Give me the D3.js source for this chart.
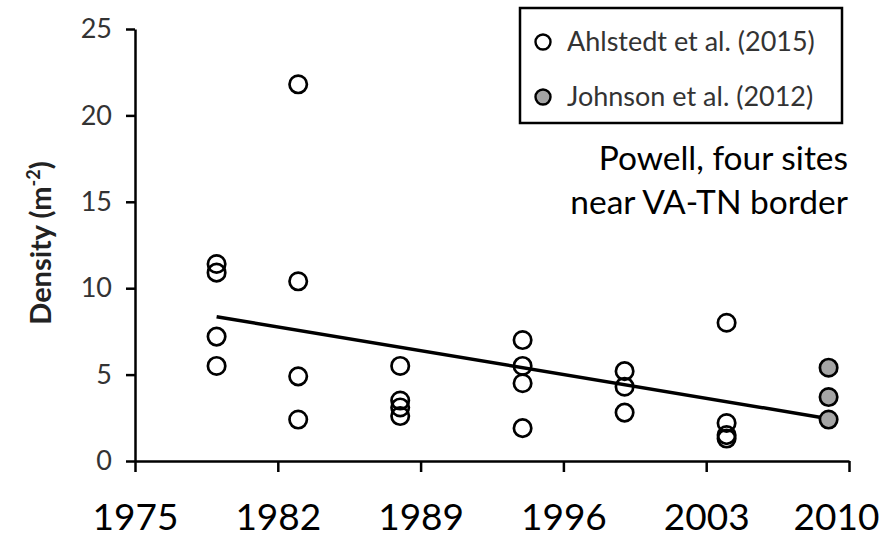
<!DOCTYPE html>
<html>
<head>
<meta charset="utf-8">
<script src="https://cdn.jsdelivr.net/npm/d3@7"></script>
<style>
  body { margin: 0; background: #fff; }
  svg { display: block; }
  svg text { font-family: Lato, "Open Sans", sans-serif; }
</style>
</head>
<body>
<script>
// data
var ahlYears   = [1979, 1979, 1979, 1979, 1983, 1983, 1983, 1983, 1988, 1988, 1988, 1988,
                  1994, 1994, 1994, 1994, 1999, 1999, 1999, 2004, 2004, 2004, 2004];
var ahlDensity = [11.4, 10.9, 7.2, 5.5, 21.8, 10.4, 4.9, 2.4, 5.5, 3.5, 3.1, 2.6,
                  7.0, 5.5, 4.5, 1.9, 5.2, 4.3, 2.8, 8.0, 2.2, 1.5, 1.3];
var johYears   = [2009, 2009, 2009];
var johDensity = [5.4, 3.7, 2.4];
var trendYears   = [1979, 2009];
var trendDensity = [8.35, 2.45];
var xTicks = [1975, 1982, 1989, 1996, 2003, 2010];
var yTicks = [0, 5, 10, 15, 20, 25];
var legendLabels = ["Ahlstedt et al. (2015)", "Johnson et al. (2012)"];
var noteLines = ["Powell, four sites", "near VA-TN border"];

var W = 895, H = 538;
var margin = {top: 29, right: 46, bottom: 77, left: 135},
    width = W - margin.left - margin.right,
    height = H - margin.top - margin.bottom;

var svg = d3.select("body").append("svg")
    .attr("width", W)
    .attr("height", H);

var g = svg.append("g")
    .attr("transform", "translate(" + margin.left + "," + margin.top + ")");

var x = d3.scaleLinear().domain([1975, 2010]).range([0, width]);
var y = d3.scaleLinear().domain([0, 25]).range([height, 0]);

// Y axis
var yAxis = g.append("g")
    .call(d3.axisLeft(y).tickValues(yTicks).tickSize(9).tickSizeOuter(0).tickPadding(14));
yAxis.select(".domain").attr("stroke-width", 2.5);
yAxis.selectAll(".tick line").attr("stroke-width", 2.5);
yAxis.selectAll("text")
    .attr("fill", "#333")
    .style("font-size", "27px");

// X axis
var xAxis = g.append("g")
    .attr("transform", "translate(0," + height + ")")
    .call(d3.axisBottom(x).tickValues(xTicks).tickFormat(d3.format("d"))
        .tickSize(11).tickSizeOuter(0));
xAxis.select(".domain").attr("stroke-width", 2.5);
xAxis.selectAll(".tick line").attr("stroke-width", 2.5);
xAxis.selectAll("text")
    .attr("y", 69)
    .attr("dy", 0)
    .attr("dx", function (d) { return d === 2010 ? -13 : 0; })
    .attr("fill", "#000")
    .style("font-size", "37px");

// y label
var ylab = svg.append("text")
    .attr("transform", "translate(51,243) rotate(-90)")
    .attr("text-anchor", "middle")
    .style("font-size", "29px")
    .style("font-weight", "bold")
    .attr("fill", "#222");
ylab.append("tspan").text("Density (m");
ylab.append("tspan").attr("dy", -11).style("font-size", "18px").text("-2");
ylab.append("tspan").attr("dy", 11).text(")");

// trend line
var line = d3.line()
    .x(function (d) { return x(d[0]); })
    .y(function (d) { return y(d[1]); });

g.append("path")
    .attr("d", line(d3.zip(trendYears, trendDensity)))
    .attr("fill", "none")
    .attr("stroke", "#000")
    .attr("stroke-width", 3.5);

// points
g.selectAll(".ahl")
    .data(d3.zip(ahlYears, ahlDensity))
    .enter().append("circle")
    .attr("class", "ahl")
    .attr("r", 8.7)
    .attr("cx", function (d) { return x(d[0]); })
    .attr("cy", function (d) { return y(d[1]); })
    .attr("fill", "none")
    .attr("stroke", "#000")
    .attr("stroke-width", 2.7);

g.selectAll(".joh")
    .data(d3.zip(johYears, johDensity))
    .enter().append("circle")
    .attr("class", "joh")
    .attr("r", 8.7)
    .attr("cx", function (d) { return x(d[0]); })
    .attr("cy", function (d) { return y(d[1]); })
    .attr("fill", "#a5a5a5")
    .attr("stroke", "#000")
    .attr("stroke-width", 2.7);

// legend
var legend = svg.append("g").attr("transform", "translate(520,8)");
legend.append("rect")
    .attr("width", 322)
    .attr("height", 115)
    .attr("fill", "#fff")
    .attr("stroke", "#000")
    .attr("stroke-width", 2.5);

var fills = ["#fff", "#a5a5a5"];
var item = legend.selectAll(".item")
    .data(legendLabels)
    .enter().append("g")
    .attr("class", "item")
    .attr("transform", function (d, i) { return "translate(0," + (34 + i * 55) + ")"; });
item.append("circle")
    .attr("cx", 23)
    .attr("r", 7.5)
    .attr("fill", function (d, i) { return fills[i]; })
    .attr("stroke", "#000")
    .attr("stroke-width", 2.4);
item.append("text")
    .attr("x", 47)
    .attr("dy", "0.35em")
    .attr("fill", "#333")
    .style("font-size", "27px")
    .text(function (d) { return d; });

// note
svg.append("g").selectAll("text")
    .data(noteLines)
    .enter().append("text")
    .attr("x", 848)
    .attr("y", function (d, i) { return 170 + i * 44; })
    .attr("text-anchor", "end")
    .attr("fill", "#000")
    .style("font-size", "33.5px")
    .text(function (d) { return d; });
</script>
</body>
</html>
